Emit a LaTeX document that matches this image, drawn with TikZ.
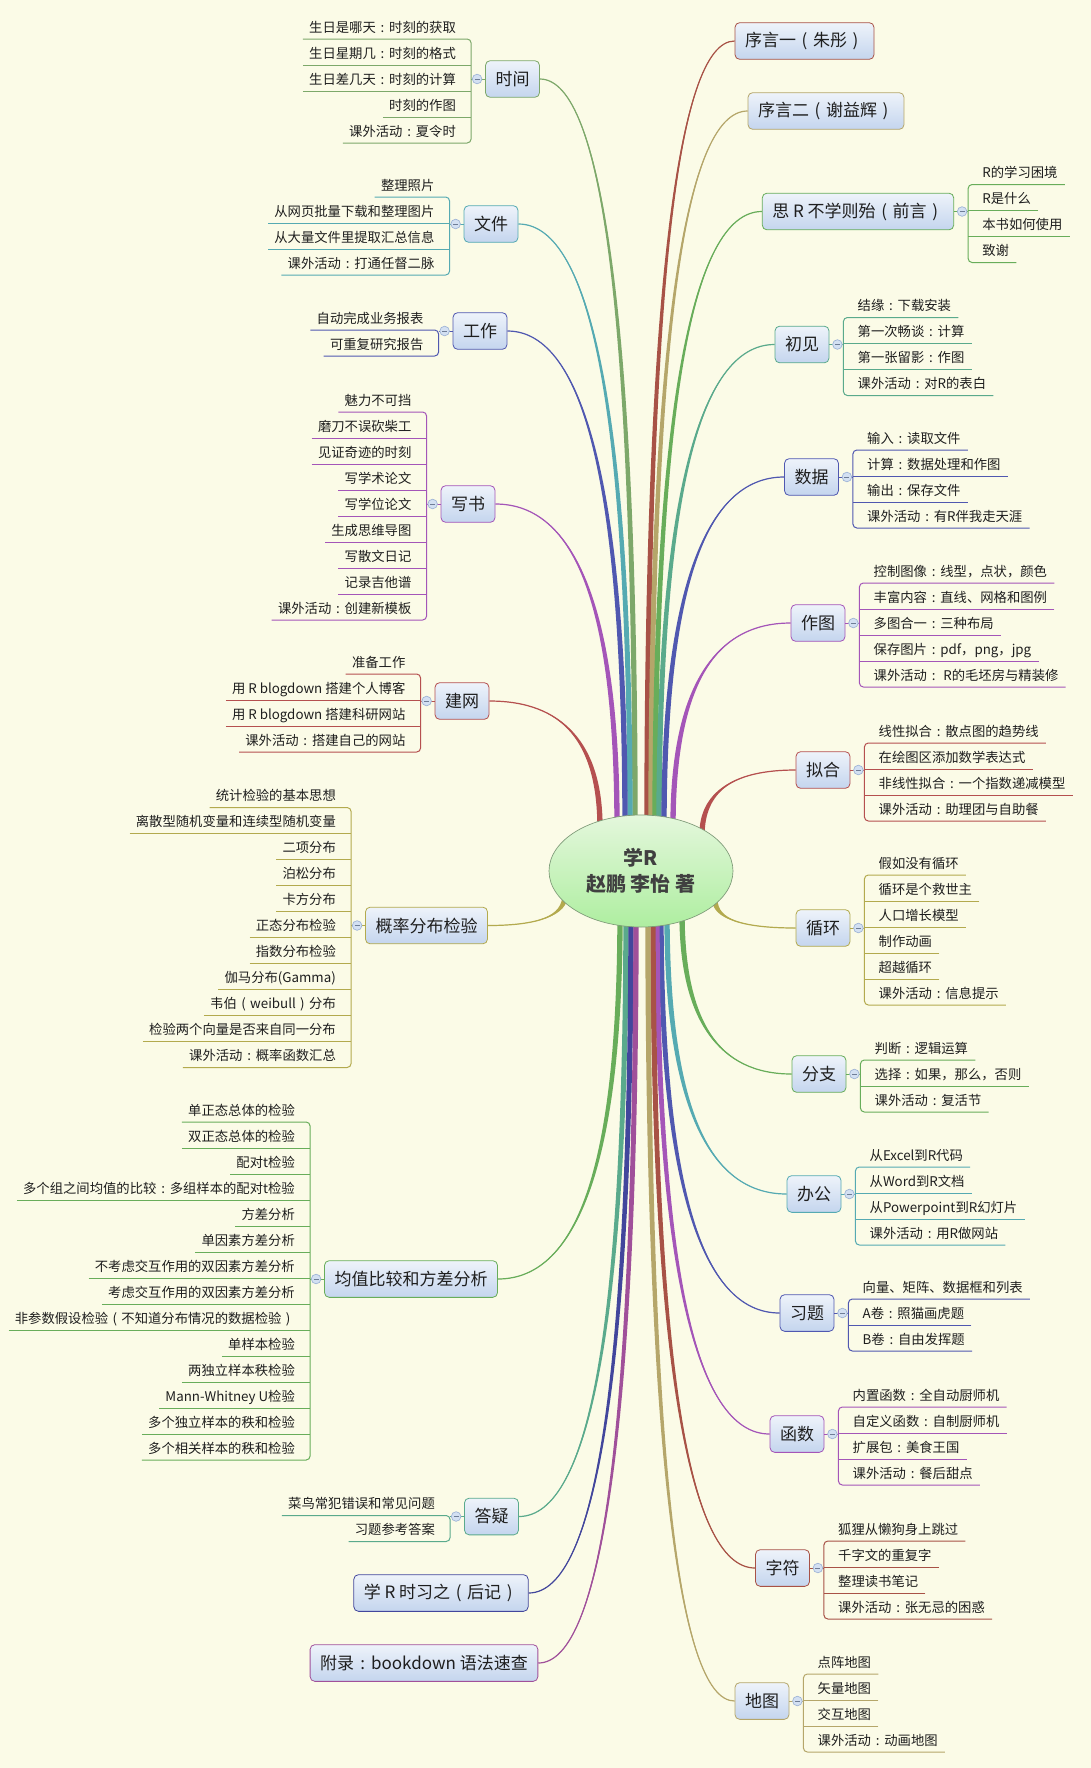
\documentclass[tikz,border=0pt]{standalone}
\usepackage{fontspec}
\usepackage{newunicodechar}
\setmainfont{Noto Sans CJK SC}
\newunicodechar{：}{\makebox[1em]{:}}
\newunicodechar{（}{\makebox[1em]{(}}
\newunicodechar{）}{\makebox[1em]{)}}
\usetikzlibrary{calc,shapes.geometric}
\definecolor{bg}{HTML}{FBFBE7}
\definecolor{txt}{HTML}{1E1E1E}
\definecolor{boxtop}{HTML}{EEF3FA}
\definecolor{boxbot}{HTML}{C4D5EE}
\definecolor{ellt}{HTML}{E4F7DC}
\definecolor{ellb}{HTML}{AEEEA0}
\definecolor{elld}{HTML}{7E9A78}
\definecolor{knobf}{HTML}{D3E0F2}
\definecolor{knobd}{HTML}{9DB3D6}
\definecolor{cTime}{HTML}{7DA86A}
\definecolor{cGreen}{HTML}{68AD5A}
\definecolor{cTeal}{HTML}{55AAB2}
\definecolor{cBlue}{HTML}{5058B0}
\definecolor{cPurple}{HTML}{A455B8}
\definecolor{cRed}{HTML}{B5504F}
\definecolor{cOlive}{HTML}{B3AA4E}
\definecolor{cBrown}{HTML}{A85246}
\definecolor{cTan}{HTML}{B5A66A}
\definecolor{cSea}{HTML}{5AAA8C}
\definecolor{cNavy}{HTML}{42469C}
\definecolor{cPink}{HTML}{A0509A}
\pgfdeclarelayer{back}\pgfdeclarelayer{conn}\pgfsetlayers{back,conn,main}
\tikzset{
 branch/.style={draw=#1, line width=0.6pt, rounded corners=3.5pt, top color=boxtop, bottom color=boxbot, text=txt, font=\fontsize{12.75}{15}\selectfont, inner xsep=7.5pt, inner ysep=0pt, minimum height=27.5pt},
 leaf/.style={font=\fontsize{10}{12}\selectfont, text=txt, inner sep=0pt},
 knob/.style={fill=knobf, draw=knobd, line width=0.5pt},
}
\newcommand\conn[3]{%
 \fill[#3] let \p1=(#1), \p2=(#2) in
  (\x1-2pt,\y1) .. controls (\x1-2pt,{\y1+0.667*(\y2-\y1)}) and ({\x2+0.667*(\x1-\x2)},\y2) .. (\x2,\y2)
   .. controls ({\x2+0.667*(\x1-\x2)},\y2) and (\x1+2pt,{\y1+0.667*(\y2-\y1)}) .. (\x1+2pt,\y1) -- cycle;
 \draw[#3, line width=0.9pt] let \p1=(#1), \p2=(#2) in
  (\x1,\y1) .. controls (\x1,{\y1+0.667*(\y2-\y1)}) and ({\x2+0.667*(\x1-\x2)},\y2) .. (\x2,\y2);
}
\newcommand\knobat[1]{%
 \draw[knob] (#1) circle[radius=3.6pt];
 \draw[knobd!70!black, line width=0.5pt] ($(#1)+(-2.5,0)$) -- ($(#1)+(2.5,0)$);
}
\newcommand\leavesL[4]{%
 \foreach \t [count=\k] in {#4}{%
  \node[leaf, anchor=base east] (#1-\k) at ($(#1.west)+(-29,{(\k-(#3+1)/2)*26+5})$) {\t};
  \ifnum\k>1 \ifnum\k<#3
   \draw[#2, line width=0.75pt] ($(#1-\k.base west)+(-6,7)$) -- ($(#1.west)+(-14,{(\k-(#3+1)/2)*26+12})$);
  \fi\fi
 }
 \draw[#2, line width=0.75pt, rounded corners=3pt] ($(#1-1.base west)+(-6,7)$) -- ($(#1.west)+(-14,{(1-(#3+1)/2)*26+12})$) -- ($(#1.west)+(-14,{(#3-(#3+1)/2)*26+12})$) -- ($(#1-#3.base west)+(-6,7)$);
 \draw[#2, line width=0.75pt] ($(#1.west)+(-14,0)$) -- (#1.west);
 \coordinate (#1-k) at ($(#1.west)+(-8,0)$);
 \knobat{#1-k}
}
\newcommand\leavesR[4]{%
 \foreach \t [count=\k] in {#4}{%
  \node[leaf, anchor=base west] (#1-\k) at ($(#1.east)+(28,{(\k-(#3+1)/2)*26+5})$) {\t};
  \ifnum\k>1 \ifnum\k<#3
   \draw[#2, line width=0.75pt] ($(#1-\k.base east)+(7,7)$) -- ($(#1.east)+(14,{(\k-(#3+1)/2)*26+12})$);
  \fi\fi
 }
 \draw[#2, line width=0.75pt, rounded corners=3pt] ($(#1-1.base east)+(7,7)$) -- ($(#1.east)+(14,{(1-(#3+1)/2)*26+12})$) -- ($(#1.east)+(14,{(#3-(#3+1)/2)*26+12})$) -- ($(#1-#3.base east)+(7,7)$);
 \draw[#2, line width=0.75pt] ($(#1.east)+(14,0)$) -- (#1.east);
 \coordinate (#1-k) at ($(#1.east)+(8,0)$);
 \knobat{#1-k}
}
\begin{document}
\begin{tikzpicture}[x=0.75pt,y=-0.75pt]
\useasboundingbox (0,0) rectangle (1091,1768);
\begin{pgfonlayer}{back}
\fill[bg] (0,0) rectangle (1091,1768);
\end{pgfonlayer}

% centre
\node[ellipse, draw=elld, line width=0.5pt, top color=ellt, bottom color=ellb, minimum width=138pt, minimum height=84pt, inner sep=0pt, align=center, font=\bfseries\fontsize{15}{19.5}\selectfont, text=txt!85] (c) at (641,871) {学R\\赵鹏 李怡 著};

% left branches
\node[branch=cTime] (b1) at (512.5,79) {时间};
\node[branch=cTeal] (b2) at (491,224) {文件};
\node[branch=cBlue] (b3) at (480,331) {工作};
\node[branch=cPurple] (b4) at (468,504) {写书};
\node[branch=cRed] (b5) at (462,701) {建网};
\node[branch=cOlive] (b6) at (426.5,925.5) {概率分布检验};
\node[branch=cGreen] (b7) at (411,1279) {均值比较和方差分析};
\node[branch=cSea] (b8) at (491.5,1516.5) {答疑};
\node[branch=cNavy] (b9) at (441,1593) {学 R 时习之（后记）};
\node[branch=cPink] (b10) at (424,1663) {附录：bookdown 语法速查};

% right branches
\node[branch=cBrown] (r1) at (804.5,41) {序言一（朱彤）};
\node[branch=cTan] (r2) at (826,111) {序言二（谢益辉）};
\node[branch=cGreen] (r3) at (858,211.5) {思 R 不学则殆（前言）};
\node[branch=cSea] (r4) at (802,344.5) {初见};
\node[branch=cBlue] (r5) at (811.5,477) {数据};
\node[branch=cPurple] (r6) at (818,623) {作图};
\node[branch=cRed] (r7) at (823,770) {拟合};
\node[branch=cOlive] (r8) at (823,928) {循环};
\node[branch=cGreen] (r9) at (819,1074) {分支};
\node[branch=cTeal] (r10) at (814,1194) {办公};
\node[branch=cBlue] (r11) at (807,1313) {习题};
\node[branch=cPurple] (r12) at (797,1434) {函数};
\node[branch=cBrown] (r13) at (782.5,1568) {字符};
\node[branch=cTan] (r14) at (762,1701) {地图};

\begin{pgfonlayer}{conn}
\conn{635,826}{b1.east}{cTime}
\conn{630,826}{b2.east}{cTeal}
\conn{625,826}{b3.east}{cBlue}
\conn{617,826}{b4.east}{cPurple}
\conn{600,828}{b5.east}{cRed}
\conn{565,895}{b6.east}{cOlive}
\conn{620,915}{b7.east}{cGreen}
\conn{626,915}{b8.east}{cSea}
\conn{631,915}{b9.east}{cNavy}
\conn{636,915}{b10.east}{cPink}
\conn{647,826}{r1.west}{cBrown}
\conn{651,826}{r2.west}{cTan}
\conn{655,826}{r3.west}{cGreen}
\conn{659,826}{r4.west}{cSea}
\conn{664,826}{r5.west}{cBlue}
\conn{673,826}{r6.west}{cPurple}
\conn{702,835}{r7.west}{cRed}
\conn{715,900}{r8.west}{cOlive}
\conn{682,913}{r9.west}{cGreen}
\conn{667,915}{r10.west}{cTeal}
\conn{661,915}{r11.west}{cBlue}
\conn{657,915}{r12.west}{cPurple}
\conn{653,915}{r13.west}{cBrown}
\conn{648,915}{r14.west}{cTan}
\end{pgfonlayer}

% leaves left
\leavesL{b1}{cTime}{5}{生日是哪天：时刻的获取,生日星期几：时刻的格式,生日差几天：时刻的计算,时刻的作图,课外活动：夏令时}
\leavesL{b2}{cTeal}{4}{整理照片,从网页批量下载和整理图片,从大量文件里提取汇总信息,课外活动：打通任督二脉}
\leavesL{b3}{cBlue}{2}{自动完成业务报表,可重复研究报告}
\leavesL{b4}{cPurple}{9}{魅力不可挡,磨刀不误砍柴工,见证奇迹的时刻,写学术论文,写学位论文,生成思维导图,写散文日记,记录吉他谱,课外活动：创建新模板}
\leavesL{b5}{cRed}{4}{准备工作,用 R blogdown 搭建个人博客,用 R blogdown 搭建科研网站,课外活动：搭建自己的网站}
\leavesL{b6}{cOlive}{11}{统计检验的基本思想,离散型随机变量和连续型随机变量,二项分布,泊松分布,卡方分布,正态分布检验,指数分布检验,伽马分布(Gamma),韦伯（weibull）分布,检验两个向量是否来自同一分布,课外活动：概率函数汇总}
\leavesL{b7}{cGreen}{14}{单正态总体的检验,双正态总体的检验,配对t检验,多个组之间均值的比较：多组样本的配对t检验,方差分析,单因素方差分析,不考虑交互作用的双因素方差分析,考虑交互作用的双因素方差分析,非参数假设检验（不知道分布情况的数据检验）,单样本检验,两独立样本秩检验,Mann-Whitney U检验,多个独立样本的秩和检验,多个相关样本的秩和检验}
\leavesL{b8}{cSea}{2}{菜鸟常犯错误和常见问题,习题参考答案}

% leaves right
\leavesR{r3}{cGreen}{4}{R的学习困境,R是什么,本书如何使用,致谢}
\leavesR{r4}{cSea}{4}{结缘：下载安装,第一次畅谈：计算,第一张留影：作图,课外活动：对R的表白}
\leavesR{r5}{cBlue}{4}{输入：读取文件,计算：数据处理和作图,输出：保存文件,课外活动：有R伴我走天涯}
\leavesR{r6}{cPurple}{5}{控制图像：线型，点状，颜色,丰富内容：直线、网格和图例,多图合一：三种布局,保存图片：pdf，png，jpg,课外活动： R的毛坯房与精装修}
\leavesR{r7}{cRed}{4}{线性拟合：散点图的趋势线,在绘图区添加数学表达式,非线性拟合：一个指数递减模型,课外活动：助理团与自助餐}
\leavesR{r8}{cOlive}{6}{假如没有循环,循环是个救世主,人口增长模型,制作动画,超越循环,课外活动：信息提示}
\leavesR{r9}{cGreen}{3}{判断：逻辑运算,选择：如果，那么，否则,课外活动：复活节}
\leavesR{r10}{cTeal}{4}{从Excel到R代码,从Word到R文档,从Powerpoint到R幻灯片,课外活动：用R做网站}
\leavesR{r11}{cBlue}{3}{向量、矩阵、数据框和列表,A卷：照猫画虎题,B卷：自由发挥题}
\leavesR{r12}{cPurple}{4}{内置函数：全自动厨师机,自定义函数：自制厨师机,扩展包：美食王国,课外活动：餐后甜点}
\leavesR{r13}{cBrown}{4}{狐狸从懒狗身上跳过,千字文的重复字,整理读书笔记,课外活动：张无忌的困惑}
\leavesR{r14}{cTan}{4}{点阵地图,矢量地图,交互地图,课外活动：动画地图}
\end{tikzpicture}
\end{document}
